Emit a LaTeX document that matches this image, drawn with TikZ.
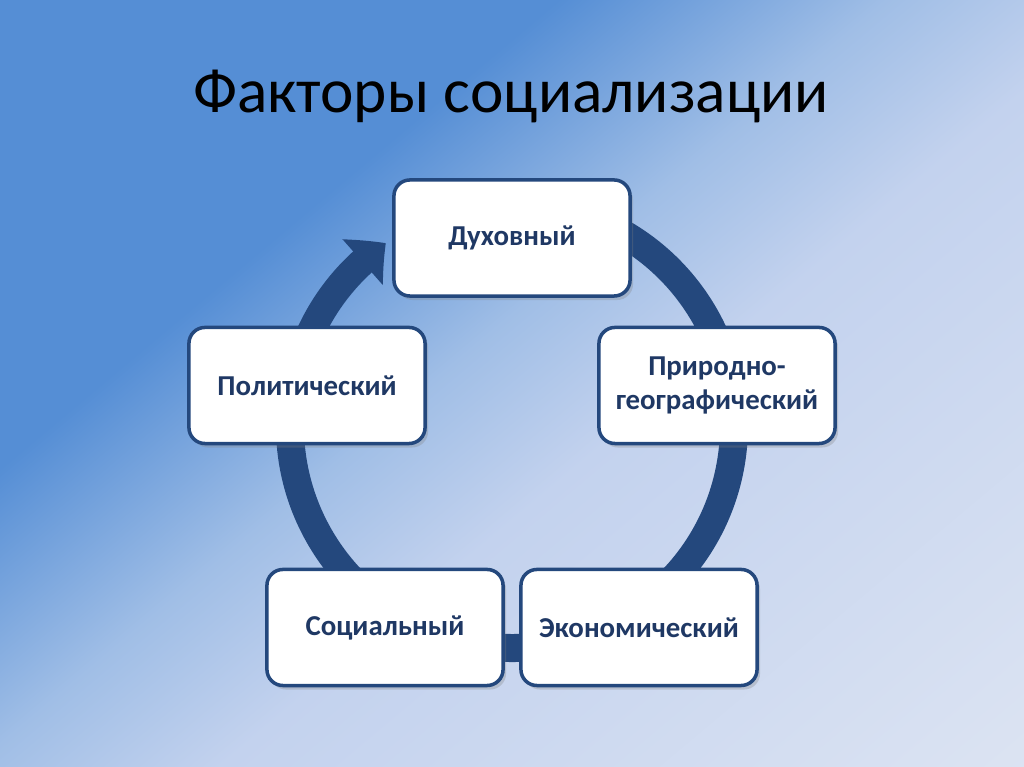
\documentclass[tikz,border=0pt]{standalone}
\usepackage{fontspec}
\setmainfont{Carlito}
\usetikzlibrary{arrows.meta,bending,shadows}

\definecolor{bgdark}{RGB}{85,142,213}
\definecolor{bgmid}{RGB}{160,190,230}
\definecolor{bgpale}{RGB}{195,210,238}
\definecolor{bglight}{RGB}{222,229,243}
\definecolor{ringblue}{RGB}{36,72,125}
\definecolor{labelblue}{RGB}{31,56,100}

\pgfdeclarehorizontalshading{slide}{100bp}{color(0bp)=(bgdark); color(35bp)=(bgdark); color(47bp)=(bgmid); color(56bp)=(bgpale); color(88bp)=(bglight); color(100bp)=(bglight)}

\begin{document}
\begin{tikzpicture}[x=0.01cm,y=0.01cm,
    factor/.style={draw=ringblue, line width=0.35mm, fill=white,
      rounded corners=1.6mm, minimum width=2.36cm, minimum height=1.16cm,
      inner sep=0pt, align=center, text=labelblue,
      font=\fontsize{8.2}{9.4}\selectfont\bfseries,
      drop shadow={shadow xshift=0.3mm, shadow yshift=-0.4mm, opacity=0.3}},
    ring/.style={draw=ringblue, line width=2.8mm,
      -{Triangle[width=5.9mm,length=3mm,bend]}}]
  % background
  \shade[shading=slide, shading angle=-50] (0,0) rectangle (1024,767);
  \useasboundingbox (0,0) rectangle (1024,767);
  \node[anchor=base, font=\fontsize{18}{22}\selectfont] (title) at (511,654)
    {Факторы социализации};
  % cycle
  \coordinate (hub) at (512,341);
  \draw[ring] (hub) ++(80:222) arc[start angle=80, end angle=-235.4, radius=222];
  \node[factor] (spirit) at (512,529) {Духовный};
  \node[factor] (nature) at (717,381.5) {Природно-\\географический};
  \node[factor] (econ) at (639,139.5) {Экономический};
  \node[factor] (social) at (385,139.5) {Социальный};
  \node[factor] (politic) at (307,381.5) {Политический};
\end{tikzpicture}
\end{document}
